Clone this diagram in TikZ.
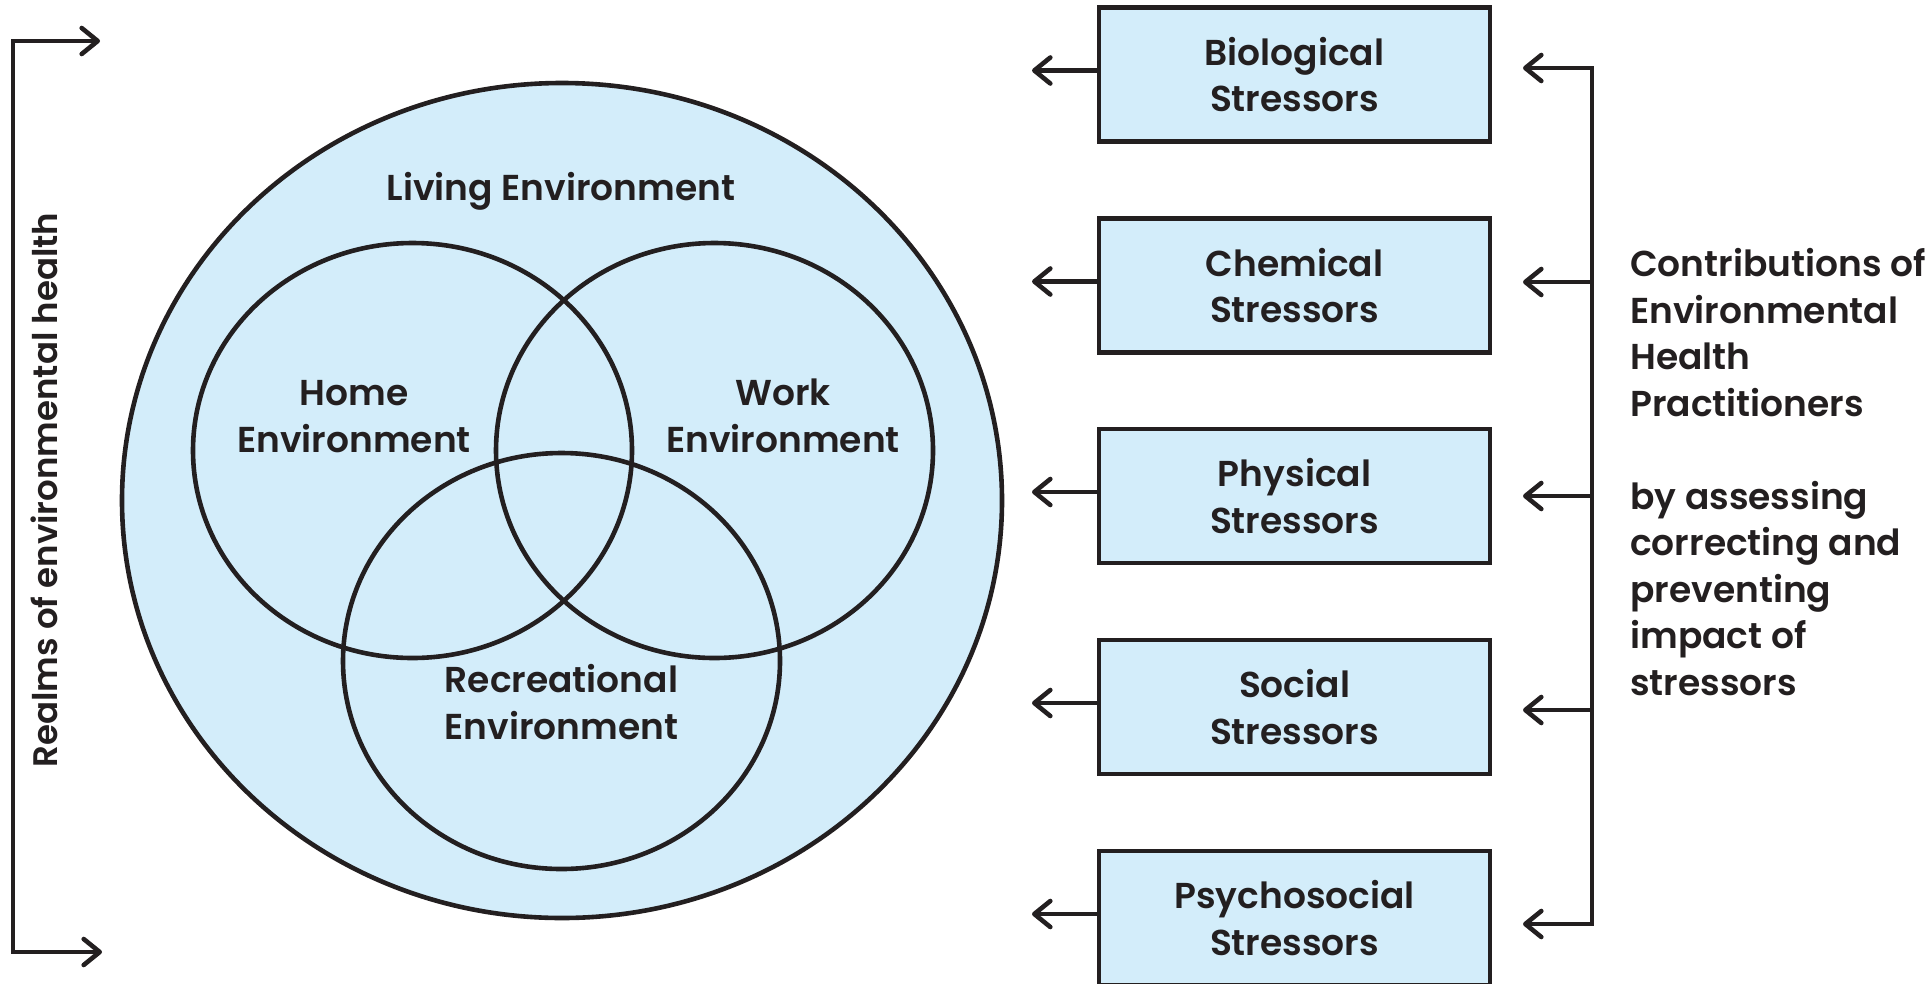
\documentclass[tikz,border=0pt]{standalone}
\usepackage{fontspec}
\setmainfont{Poppins SemiBold}
\usetikzlibrary{arrows.meta,shapes.geometric}
\definecolor{ink}{HTML}{231F20}
\definecolor{skyfill}{HTML}{D3EDFA}
\begin{document}
\begin{tikzpicture}[x=1pt,y=-1pt,line width=4.6pt,color=ink,
  lbl/.style={font=\fontsize{36}{46.5}\selectfont,text=ink,align=center,inner sep=0pt},
  ring/.style={ellipse,draw=ink,line width=4.6pt,inner sep=0pt,outer sep=0pt},
  stressbox/.style={rectangle,draw=ink,fill=skyfill,line width=4.6pt,minimum width=391pt,minimum height=134pt,inner sep=0pt,align=center,font=\fontsize{36}{46.5}\selectfont,text=ink},
  barb/.tip={Straight Barb[length=16pt,width=26pt,round]},
  arr/.style={draw=ink,line width=4.6pt,-barb}]
\useasboundingbox (0,0) rectangle (1926,983);

% Venn diagram
\node[ring,fill=skyfill,minimum width=880pt,minimum height=835pt] (living) at (562,500.5) {};
\node[ring,minimum width=439pt,minimum height=415pt] (home) at (412.5,450.5) {};
\node[ring,minimum width=437pt,minimum height=415pt] (work) at (714.5,450.5) {};
\node[ring,minimum width=437pt,minimum height=416pt] (recr) at (561.5,661) {};

\node[lbl,anchor=base] (livinglbl) at (561,200) {Living Environment};
\node[lbl,anchor=south] (homelbl) at (354,455) {Home\\Environment};
\node[lbl,anchor=south] (worklbl) at (783,455) {Work\\Environment};
\node[lbl,anchor=south] (recrlbl) at (561.5,742) {Recreational\\Environment};

% left bracket
\node[lbl,rotate=90,font=\fontsize{34}{44}\selectfont] (realms) at (44,490) {Realms of environmental health};
\coordinate (ltop) at (13,41);
\coordinate (lbot) at (13,952);
\coordinate (ltoptip) at (100,41);
\coordinate (lbottip) at (102,952);
\draw[barb-barb] (ltoptip) -- (ltop) -- (lbot) -- (lbottip);

% stressor boxes
\node[stressbox] (bio) at (1294.5,74.5) {Biological\\Stressors};
\node[stressbox] (chem) at (1294.5,285.5) {Chemical\\Stressors};
\node[stressbox] (phys) at (1294.5,496) {Physical\\Stressors};
\node[stressbox] (soc) at (1294.5,707) {Social\\Stressors};
\node[stressbox] (psy) at (1294.5,918) {Psychosocial\\Stressors};

% arrows out of boxes
\coordinate (bioL) at (1032,70.5);
\coordinate (chemL) at (1032,281.5);
\coordinate (physL) at (1032,492);
\coordinate (socL) at (1032,703);
\coordinate (psyL) at (1032,914);
\draw[arr] (bio.west |- bioL) -- (bioL);
\draw[arr] (chem.west |- chemL) -- (chemL);
\draw[arr] (phys.west |- physL) -- (physL);
\draw[arr] (soc.west |- socL) -- (socL);
\draw[arr] (psy.west |- psyL) -- (psyL);

% right bracket
\coordinate (rtop) at (1592,68);
\coordinate (rbot) at (1592,924);
\coordinate (bioR) at (1523,68);
\coordinate (chemR) at (1523,282);
\coordinate (physR) at (1523,496);
\coordinate (socR) at (1523,710);
\coordinate (psyR) at (1523,924);
\draw[barb-barb] (bioR) -- (rtop) -- (rbot) -- (psyR);
\draw[arr] (rtop |- chemR) -- (chemR);
\draw[arr] (rtop |- physR) -- (physR);
\draw[arr] (rtop |- socR) -- (socR);

\node[lbl,align=left,anchor=south west] (contrib) at (1628,698)
  {Contributions of\\Environmental\\Health\\Practitioners\\[46.5pt]by assessing\\correcting and\\preventing\\impact of\\stressors};
\end{tikzpicture}
\end{document}
